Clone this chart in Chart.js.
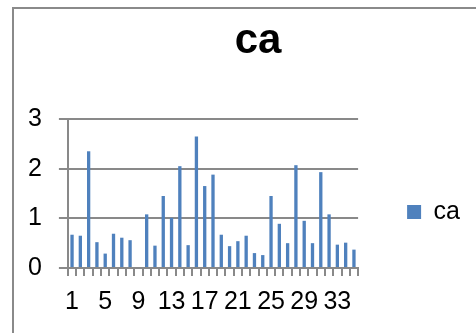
<!DOCTYPE html>
<html>
<head>
<meta charset="utf-8">
<script src="https://cdn.jsdelivr.net/npm/chart.js@4/dist/chart.umd.min.js"></script>
<style>
  html, body { margin: 0; padding: 0; background: #fff; overflow: hidden; }
  #frame {
    position: absolute; left: 12px; top: 7px; width: 480px; height: 340px;
    border: 2px solid #8a8a8a; box-sizing: border-box;
  }
  #wrap { position: absolute; left: 0; top: 0; width: 476px; height: 333px; overflow: hidden; }
  #chart { display: block; }
</style>
</head>
<body>
<div id="frame"></div>
<div id="wrap"><canvas id="chart" width="520" height="333"></canvas></div>
<script>
// Sample numbers along the x axis
const categories = ['1','2','3','4','5','6','7','8','9','10','11','12','13','14','15','16','17','18',
                    '19','20','21','22','23','24','25','26','27','28','29','30','31','32','33','34','35'];
// "ca" measurements per sample
const caValues = [0.67, 0.65, 2.35, 0.52, 0.29, 0.69, 0.61, 0.56, 0, 1.08, 0.45, 1.45, 1.01, 2.05, 0.46, 2.65, 1.65, 1.88,
                  0.67, 0.44, 0.54, 0.65, 0.30, 0.26, 1.45, 0.89, 0.50, 2.07, 0.95, 0.50, 1.93, 1.08, 0.47, 0.51, 0.37];
// Value axis ticks
const yTicks = [0, 1, 2, 3];
// Only every fourth category gets a label
const labelEvery = 4;

const FONT = '"Liberation Sans", Arial, sans-serif';
const GRID = '#898989';

new Chart(document.getElementById('chart'), {
  type: 'bar',
  data: {
    labels: categories,
    datasets: [{
      label: 'ca',
      data: caValues,
      xAxisID: 'x',
      yAxisID: 'y',
      backgroundColor: '#4f81bd',
      borderWidth: 0,
      categoryPercentage: 1,
      barPercentage: 0.4
    }]
  },
  options: {
    responsive: false,
    animation: false,
    layout: { padding: { left: 11, right: 15, top: 0, bottom: 5 } },
    plugins: {
      title: {
        display: true,
        text: 'ca',
        color: '#000',
        font: { family: FONT, size: 42, weight: 'bold' },
        padding: { top: 16, bottom: 52.6 }
      },
      legend: {
        position: 'right',
        fullSize: false,
        align: 'center',
        maxWidth: 300,
        // empty heading only pushes the entry down inside the legend box
        title: { display: true, text: '', padding: { top: 22.6, bottom: 0 } },
        labels: {
          boxWidth: 14,
          boxHeight: 14,
          padding: 49,
          color: '#000',
          font: { family: FONT, size: 25 }
        }
      },
      tooltip: { enabled: false }
    },
    scales: {
      x: {
        grid: { display: true, drawOnChartArea: false, drawTicks: true, tickLength: 8, color: GRID, lineWidth: 2, offset: true },
        border: { display: true, color: GRID, width: 2 },
        ticks: {
          autoSkip: false,
          maxRotation: 0,
          color: '#000',
          font: { family: FONT, size: 25 },
          padding: 11,
          callback: (v, i) => (i % labelEvery === 0 ? categories[i] : '')
        }
      },
      y: {
        min: 0,
        max: 3,
        afterBuildTicks: (scale) => { scale.ticks = yTicks.map(v => ({ value: v })); },
        grid: { color: GRID, lineWidth: 2, tickLength: 9, drawTicks: true },
        border: { display: true, color: GRID, width: 2 },
        ticks: { color: '#000', font: { family: FONT, size: 25 }, padding: 17 }
      },
      // blank margin to the right of the legend
      gap: {
        type: 'linear',
        position: 'right',
        weight: 2000,
        grid: { display: false },
        border: { display: false },
        ticks: { display: false },
        afterFit: (scale) => { scale.width = 35; }
      }
    }
  }
});
</script>
</body>
</html>
